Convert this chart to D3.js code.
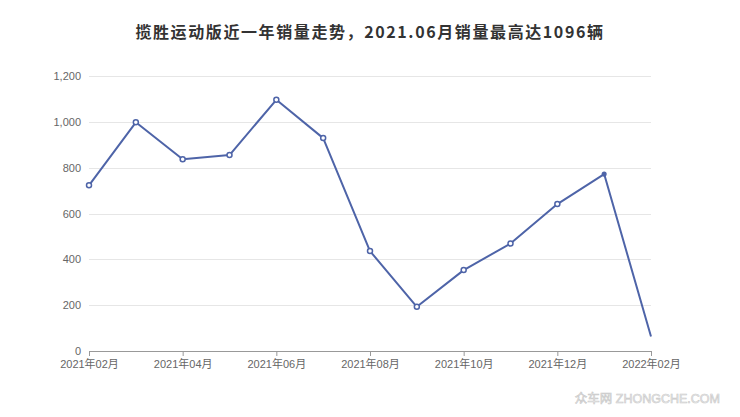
<!DOCTYPE html>
<html><head><meta charset="utf-8">
<script src="https://cdn.jsdelivr.net/npm/d3@7"></script>
<style>
body{margin:0;background:#fff;font-family:"Noto Sans CJK SC","Helvetica Neue",Arial,sans-serif;}
</style></head>
<body><svg id="c" width="740" height="417"></svg>
<script>
const title = "揽胜运动版近一年销量走势，2021.06月销量最高达1096辆";
const months = ["2021年02月","2021年03月","2021年04月","2021年05月","2021年06月","2021年07月","2021年08月","2021年09月","2021年10月","2021年11月","2021年12月","2022年01月","2022年02月"];
const sales = [723, 998, 837, 855, 1096, 929, 436, 193, 353, 469, 641, 772, 63];
const yTicks = [0, 200, 400, 600, 800, 1000, 1200];

const svg = d3.select("#c");
const m = {l:89, r:651, t:76, b:351};
const x = d3.scaleLinear().domain([0, months.length-1]).range([m.l, m.r]);
const y = d3.scaleLinear().domain([0, 1200]).range([m.b, m.t]);
const font = "'Helvetica Neue',Arial,'Noto Sans CJK SC',sans-serif";

svg.append("text").attr("x",370).attr("y",38).attr("text-anchor","middle")
  .attr("font-size",16).attr("font-weight","bold").attr("fill","#333").attr("letter-spacing",1.6)
  .attr("font-family","'Noto Sans CJK SC',sans-serif").text(title);

// grid
svg.append("g").selectAll("line").data(yTicks.filter(d=>d>0)).join("line")
  .attr("x1",m.l).attr("x2",m.r).attr("y1",d=>Math.round(y(d))+0.5).attr("y2",d=>Math.round(y(d))+0.5)
  .attr("stroke","#e6e6e6").attr("stroke-width",1);

// y labels
svg.append("g").selectAll("text").data(yTicks).join("text")
  .attr("x",81).attr("y",d=>y(d)+4).attr("text-anchor","end")
  .attr("font-size",11).attr("fill","#666").attr("font-family",font)
  .text(d=>d3.format(",")(d));

// x axis
const xAxis = d3.axisBottom(x).tickValues(d3.range(0, months.length, 2))
  .tickFormat(i=>months[i]).tickSize(5).tickSizeOuter(0);
const gx = svg.append("g").attr("transform",`translate(0,${m.b})`).call(xAxis);
gx.select(".domain").attr("stroke","#999");
gx.selectAll(".tick line").attr("stroke","#999");
gx.selectAll(".tick text").attr("font-size",11).attr("fill","#666").attr("font-family",font).attr("dy","0.71em").attr("y",9);

// line
const line = d3.line().x((d,i)=>x(i)).y(d=>y(d));
svg.append("path").datum(sales).attr("d",line).attr("fill","none")
  .attr("stroke","#4e64a8").attr("stroke-width",2).attr("stroke-linejoin","round");

svg.append("g").selectAll("circle").data(sales.slice(0, sales.length-1)).join("circle")
  .attr("cx",(d,i)=>x(i)).attr("cy",d=>y(d))
  .attr("r",(d,i)=>i===sales.length-2?1.8:2.5)
  .attr("fill",(d,i)=>i===sales.length-2?"#4e64a8":"#fff")
  .attr("stroke","#4e64a8").attr("stroke-width",1.5);

// watermark
svg.append("text").attr("x",720).attr("y",403).attr("text-anchor","end")
  .attr("font-size",12.5).attr("fill","#f4f4f4").attr("stroke","#c8c8c8").attr("stroke-width",0.6)
  .attr("font-family",font).text("众车网 ZHONGCHE.COM");
</script></body></html>
